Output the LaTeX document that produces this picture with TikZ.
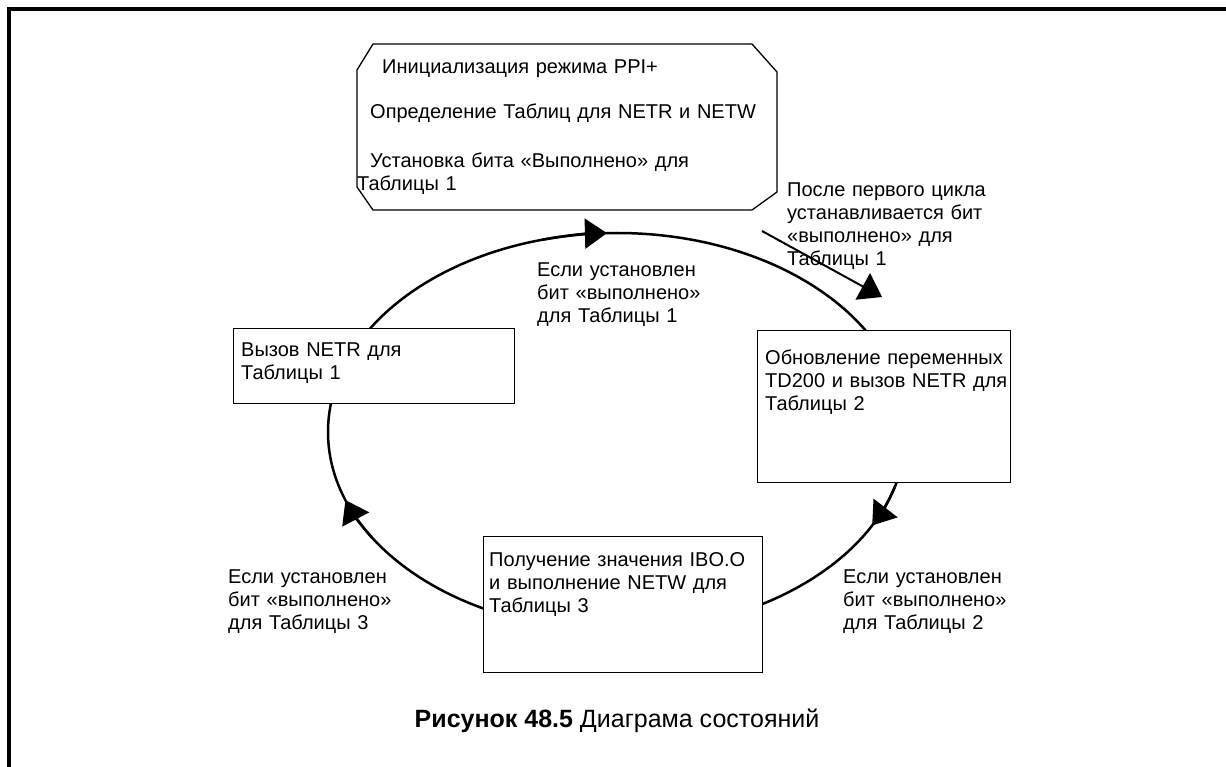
\documentclass[tikz,border=0pt]{standalone}
\usepackage{fontspec}
\setmainfont{Liberation Sans}
\usetikzlibrary{arrows.meta}
\begin{document}
\begin{tikzpicture}[x=1pt,y=-1pt,
  txt/.style={font=\fontsize{20}{23}\selectfont, inner sep=0pt, anchor=base west, text width=#1, align=left},
  txt/.default=320pt,
  box/.style={draw, line width=1.3pt, fill=white, anchor=north west, inner sep=0pt},
  loop/.style={line width=2.5pt},
  head/.style={-{Triangle[length=22pt,width=30pt]}, line width=2.5pt},
  frame/.style={line width=4pt}
]
\useasboundingbox (0,0) rectangle (1226,767);
% frame
\draw[frame] (9,767) -- (9,9) -- (1226,9);

% state loop
\draw[loop] (617,432) ellipse [x radius=289, y radius=199];
\draw[head] (617,432) ++(255:289 and 199) arc[start angle=255, end angle=268, x radius=289, y radius=199];
\draw[head] (617,432) ++(16:289 and 199) arc[start angle=16, end angle=28, x radius=289, y radius=199];
\draw[head] (617,432) ++(148:289 and 199) arc[start angle=148, end angle=160, x radius=289, y radius=199];

% top octagon state
\draw[line width=1.3pt, fill=white] (373,44) coordinate (oct) -- (752,44) -- (777,72) -- (777,192) -- (752,210) -- (373,210) -- (357,187) -- (357,70) -- cycle;
\node[txt=400pt] (o1) at (382,74) {Инициализация режима PPI+};
\node[txt=400pt] (o2) at (370,119) {Определение Таблиц для NETR и NETW};
\node[txt=400pt] (o3) at (357,168) {\hspace*{13pt}Установка бита «Выполнено» для\\Таблицы 1};

% boxes
\node[box, minimum width=281pt, minimum height=75pt] (left) at (233,328) {};
\node[box, minimum width=253pt, minimum height=152pt] (right) at (757,330) {};
\node[box, minimum width=279pt, minimum height=136pt] (bottom) at (483,536) {};
\node[txt] (lt) at (241,356) {Вызов NETR для\\Таблицы 1};
\node[txt] (rt) at (765,364) {Обновление переменных\\TD200 и вызов NETR для\\Таблицы 2};
\node[txt] (bt) at (489,566) {Получение значения IBO.O\\и выполнение NETW для\\Таблицы 3};

% first-cycle arrow
\coordinate (a0) at (762,231);
\coordinate (a1) at (882,297);
\draw[-{Triangle[length=22pt,width=30pt]}, line width=2pt] (a0) -- (a1);
\node[txt] (l0) at (787,197) {После первого цикла\\устанавливается бит\\«выполнено» для\\Таблицы 1};

% transition labels
\node[txt] (l1) at (537,277) {Если установлен\\бит «выполнено»\\для Таблицы 1};
\node[txt] (l3) at (228,583) {Если установлен\\бит «выполнено»\\для Таблицы 3};
\node[txt] (l2) at (843,583) {Если установлен\\бит «выполнено»\\для Таблицы 2};

% caption
\node[font=\fontsize{25}{28}\selectfont, anchor=base, inner sep=0pt] (cap) at (617,727) {\textbf{Рисунок 48.5} Диаграма состояний};
\end{tikzpicture}
\end{document}
